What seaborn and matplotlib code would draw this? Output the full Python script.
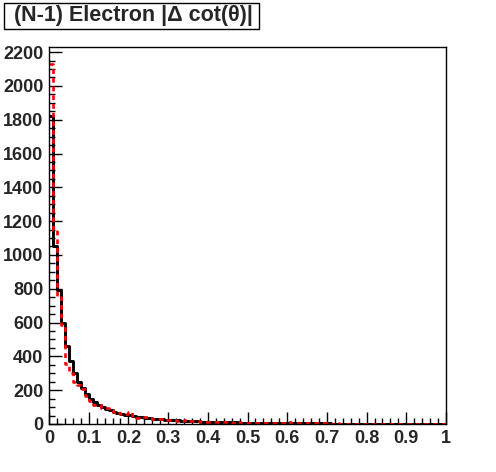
import matplotlib
matplotlib.use("Agg")
import matplotlib.pyplot as plt
import numpy as np
import pandas as pd
import seaborn as sns
from matplotlib.patches import Rectangle
from matplotlib.ticker import FuncFormatter, MultipleLocator

# 100 bins of width 0.01 on [0, 1]
bin_edges = np.linspace(0.0, 1.0, 101)
bin_centers = 0.5 * (bin_edges[:-1] + bin_edges[1:])

# solid black histogram
counts_black = [1820, 1050, 790, 597, 460, 375, 300, 250, 210, 178,
                150, 128, 112, 100, 90, 80, 73, 66, 61, 56,
                52, 47, 43, 40, 37, 34, 32, 30, 28, 26,
                25, 23, 21, 20, 19, 18, 16, 15, 14, 13,
                13, 12, 12, 11, 10, 10, 9, 9, 8, 8,
                7, 7, 7, 6, 6, 6, 5, 5, 5, 5,
                4, 4, 4, 4, 4, 3, 3, 3, 3, 3,
                3, 2, 2, 2, 2, 2, 2, 2, 2, 2,
                1, 1, 1, 1, 1, 1, 1, 1, 1, 1,
                1, 1, 1, 1, 1, 1, 1, 1, 1, 1]

# dashed red histogram
counts_red = [2130, 1150, 750, 583, 355, 300, 250, 230, 205, 163,
              135, 115, 110, 97, 93, 80, 72, 65, 60, 58,
              72, 45, 38, 42, 40, 34, 30, 27, 28, 24,
              26, 22, 20, 18, 22, 17, 15, 16, 13, 12,
              14, 11, 10, 12, 9, 10, 8, 11, 7, 7,
              6, 7, 5, 6, 5, 5, 4, 5, 4, 5,
              9, 8, 8, 7, 5, 8, 4, 8, 3, 3,
              2, 2, 3, 2, 2, 1, 2, 2, 1, 2,
              1, 1, 1, 1, 1, 1, 0, 1, 1, 1,
              1, 0, 1, 1, 0, 1, 1, 0, 1, 1]

title = "(N-1) Electron |\u0394 cot(\u03b8)|"

df_black = pd.DataFrame({"x": bin_centers, "w": counts_black})
df_red = pd.DataFrame({"x": bin_centers, "w": counts_red})

sns.set_style("white")
plt.rcParams["font.family"] = ["Liberation Sans", "DejaVu Sans"]
plt.rcParams["font.weight"] = "bold"

W, H = 496, 472
fig = plt.figure(figsize=(W / 100, H / 100), dpi=100)
ax = fig.add_axes([49 / W, 1 - 424 / H, (446 - 49) / W, (424 - 47) / H])

sns.histplot(data=df_black, x="x", weights="w", bins=list(bin_edges),
             element="step", fill=False, color="black", linewidth=2.1, ax=ax)
sns.histplot(data=df_red, x="x", weights="w", bins=list(bin_edges),
             element="step", fill=False, color="red", linewidth=1.9,
             linestyle=(0, (1.8, 1.5)), ax=ax)

ax.set_xlim(0, 1)
ax.set_ylim(0, 2230)
ax.set_xlabel("")
ax.set_ylabel("")

ax.xaxis.set_major_locator(MultipleLocator(0.1))
ax.xaxis.set_minor_locator(MultipleLocator(0.02))
ax.yaxis.set_major_locator(MultipleLocator(200))
ax.yaxis.set_minor_locator(MultipleLocator(50))
ax.xaxis.set_major_formatter(FuncFormatter(lambda v, p: f"{v:g}"))
ax.yaxis.set_major_formatter(FuncFormatter(lambda v, p: f"{int(round(v))}"))

ax.tick_params(which="both", direction="in", top=False, right=False,
               bottom=True, left=True, color="black")
ax.tick_params(which="major", length=9, width=1, labelsize=13, pad=4)
ax.tick_params(which="minor", length=4.5, width=1)
for lab in ax.get_xticklabels() + ax.get_yticklabels():
    lab.set_fontweight("bold")

for s in ax.spines.values():
    s.set_color("black")
    s.set_linewidth(1)

# title box in the ROOT style
fig.add_artist(Rectangle((4 / W, 1 - 29 / H), 255 / W, 26 / H,
                         transform=fig.transFigure, facecolor="white",
                         edgecolor="black", linewidth=1))
fig.text(133 / W, 1 - 16 / H, title, ha="center", va="center",
         fontsize=15.5, fontweight="bold")

fig.savefig("out.png", dpi=100, facecolor="white")
